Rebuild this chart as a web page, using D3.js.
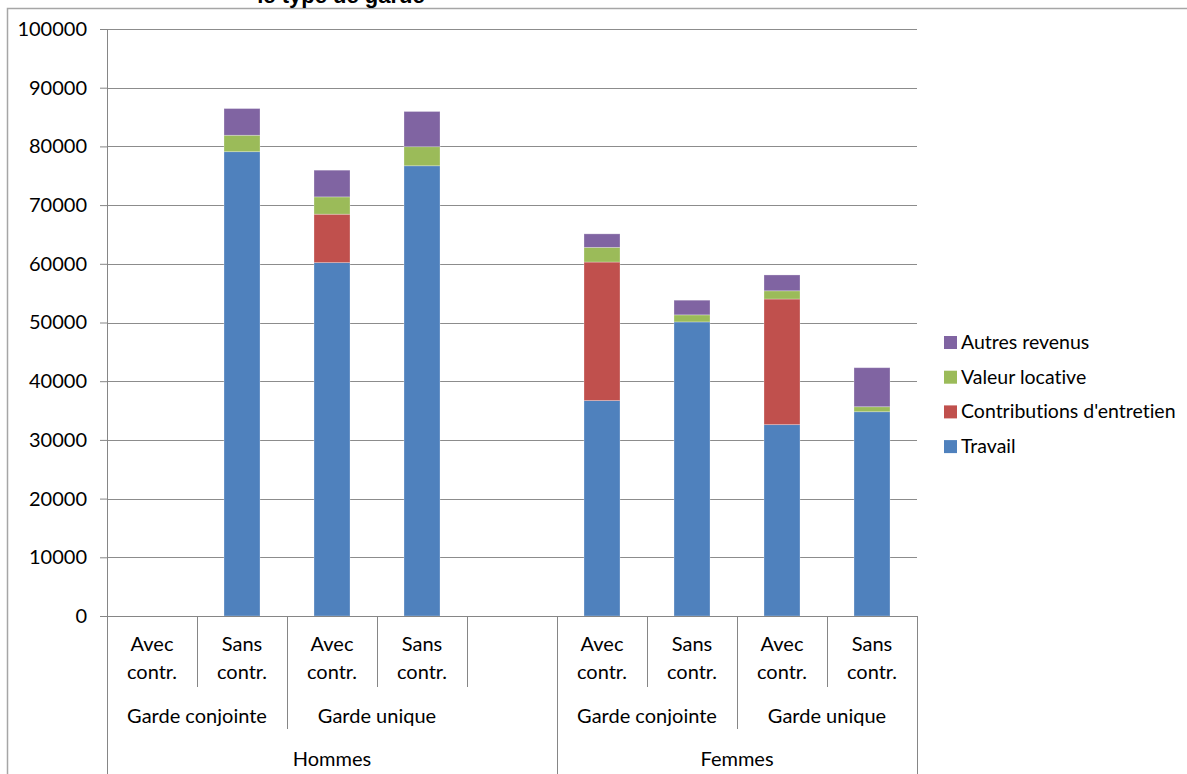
<!DOCTYPE html>
<html>
<head>
<meta charset="utf-8">
<script src="https://cdn.jsdelivr.net/npm/d3@7"></script>
<style>
  body { margin: 0; background: #fff; }
  svg { display: block; font-family: Lato, "Open Sans", sans-serif; font-variant-ligatures: none; }
</style>
</head>
<body>
<div id="chart"></div>
<script>
// categories: sex / custody type / contribution, one blank slot between the sexes
var sexes = ["Hommes", "Hommes", "Hommes", "Hommes", "Hommes", "Femmes", "Femmes", "Femmes", "Femmes"]
var gardes = ["Garde conjointe", "Garde conjointe", "Garde unique", "Garde unique", "",
              "Garde conjointe", "Garde conjointe", "Garde unique", "Garde unique"]
var contribs = ["Avec contr.", "Sans contr.", "Avec contr.", "Sans contr.", "",
                "Avec contr.", "Sans contr.", "Avec contr.", "Sans contr."]

var seriesNames = ["Travail", "Contributions d'entretien", "Valeur locative", "Autres revenus"]
var travail  = [0, 79100, 60200, 76700, 0, 36700, 50100, 32600, 34800]
var contrib  = [0, 0, 8250, 0, 0, 23600, 0, 21400, 0]
var valeur   = [0, 2800, 2950, 3250, 0, 2500, 1200, 1400, 850]
var autres   = [0, 4550, 4550, 6000, 0, 2300, 2500, 2700, 6650]
var colors = ["#4F81BD", "#C0504D", "#9BBB59", "#8064A2"]

var yTicks = [0, 10000, 20000, 30000, 40000, 50000, 60000, 70000, 80000, 90000, 100000]

var W = 1187, H = 774
var margin = {top: 29, left: 107}
var plotW = 810, plotH = 587

var svg = d3.select("#chart").append("svg")
  .attr("width", W)
  .attr("height", H)

// chart area border (runs off the right and bottom edge)
svg.append("path")
  .attr("d", "M7.5," + H + "V8.5H" + W)
  .attr("fill", "none")
  .attr("stroke", "#a6a6a6")
  .attr("stroke-width", 1.5)

// title, mostly cut off at the top like in the source
svg.append("text")
  .attr("x", 341)
  .attr("y", 3)
  .attr("text-anchor", "middle")
  .style("font-family", "'Liberation Sans', Arial, sans-serif")
  .style("font-weight", "bold")
  .style("font-size", "22px")
  .text("le type de garde")

var g = svg.append("g")
  .attr("transform", "translate(" + margin.left + "," + margin.top + ")")

var slots = d3.range(sexes.length)
var x = d3.scaleBand()
  .domain(slots)
  .range([0, plotW])
  .paddingInner(0.6)
  .paddingOuter(0.3)
var step = x.step()

var y = d3.scaleLinear()
  .domain([0, 100000])
  .range([plotH, 0])

// gridlines
g.selectAll(".grid")
  .data(yTicks.slice(1))
  .enter().append("line")
  .attr("x1", 0).attr("x2", plotW)
  .attr("y1", d => Math.round(y(d)) + 0.5)
  .attr("y2", d => Math.round(y(d)) + 0.5)
  .attr("stroke", "#8c8c8c")
  .attr("stroke-width", 1)

// y axis
var yAxis = g.append("g")
  .call(d3.axisLeft(y).tickValues(yTicks).tickSize(7).tickPadding(13).tickFormat(d3.format("d")))
yAxis.select(".domain").attr("stroke", "#868686")
yAxis.selectAll(".tick line").attr("stroke", "#868686")
yAxis.selectAll("text")
  .style("font-size", "20px")
  .style("font-family", "Lato, sans-serif")
  .attr("fill", "#000")

// stacked bars
var table = slots.map(function(i) {
  return {slot: i, "Travail": travail[i], "Contributions d'entretien": contrib[i],
          "Valeur locative": valeur[i], "Autres revenus": autres[i]}
})
var stacked = d3.stack().keys(seriesNames)(table)

g.selectAll(".series")
  .data(stacked)
  .enter().append("g")
  .attr("fill", (d, i) => colors[i])
  .selectAll("rect")
  .data(d => d.filter(p => p[1] - p[0] > 0))
  .enter().append("rect")
  .attr("x", d => x(d.data.slot))
  .attr("y", d => y(d[1]))
  .attr("width", x.bandwidth())
  .attr("height", d => y(d[0]) - y(d[1]))
  .attr("stroke", "rgba(255,255,255,0.35)")
  .attr("stroke-width", 0.8)

// category axis
var ax = g.append("g").attr("transform", "translate(0," + plotH + ")")
var lineCol = "#868686"
ax.append("line")
  .attr("x1", 0).attr("x2", plotW)
  .attr("y1", 0.5).attr("y2", 0.5)
  .attr("stroke", lineCol)

var row1 = 71, row2 = 113, bottom = H - margin.top - plotH

// separators
slots.forEach(function(i) {
  var bx = Math.round(i * step) + 0.5
  var len = row1
  if (i === 0 || sexes[i] !== sexes[i - 1]) len = bottom
  else if (gardes[i] !== gardes[i - 1] && gardes[i] !== "") len = row2
  ax.append("line")
    .attr("x1", bx).attr("x2", bx)
    .attr("y1", 0).attr("y2", len)
    .attr("stroke", lineCol)
})
ax.append("line")
  .attr("x1", plotW + 0.5).attr("x2", plotW + 0.5)
  .attr("y1", 0).attr("y2", bottom)
  .attr("stroke", lineCol)

// contribution labels (two lines)
slots.forEach(function(i) {
  if (!contribs[i]) return
  var parts = contribs[i].split(" ")
  var t = ax.append("text")
    .attr("text-anchor", "middle")
    .style("font-size", "20px")
    .attr("x", (i + 0.5) * step)
  t.append("tspan").attr("x", (i + 0.5) * step).attr("y", 35).text(parts[0])
  t.append("tspan").attr("x", (i + 0.5) * step).attr("y", 63).text(parts[1])
})

// group labels: spans of equal consecutive values
function spans(arr, key) {
  var out = []
  arr.forEach(function(v, i) {
    var k = key(i)
    if (out.length && out[out.length - 1].k === k) out[out.length - 1].end = i
    else out.push({k: k, label: v, start: i, end: i})
  })
  return out
}
spans(gardes, i => sexes[i] + gardes[i]).forEach(function(s) {
  if (!s.label) return
  ax.append("text")
    .attr("text-anchor", "middle")
    .style("font-size", "20px")
    .attr("x", (s.start + s.end + 1) / 2 * step)
    .attr("y", 107)
    .text(s.label)
})
spans(sexes, i => sexes[i]).forEach(function(s) {
  ax.append("text")
    .attr("text-anchor", "middle")
    .style("font-size", "20px")
    .attr("x", (s.start + s.end + 1) / 2 * step)
    .attr("y", 150)
    .text(s.label)
})

// legend, top entry is the top of the stack
var legend = svg.append("g").attr("transform", "translate(944,342)")
seriesNames.slice().reverse().forEach(function(name, j) {
  var idx = seriesNames.indexOf(name)
  var row = legend.append("g").attr("transform", "translate(0," + (j * 34.7) + ")")
  row.append("rect")
    .attr("x", 0).attr("y", -6)
    .attr("width", 13).attr("height", 13)
    .attr("fill", colors[idx])
  row.append("text")
    .attr("x", 17).attr("y", 7)
    .style("font-size", "19.5px")
    .text(name)
})
</script>
</body>
</html>
